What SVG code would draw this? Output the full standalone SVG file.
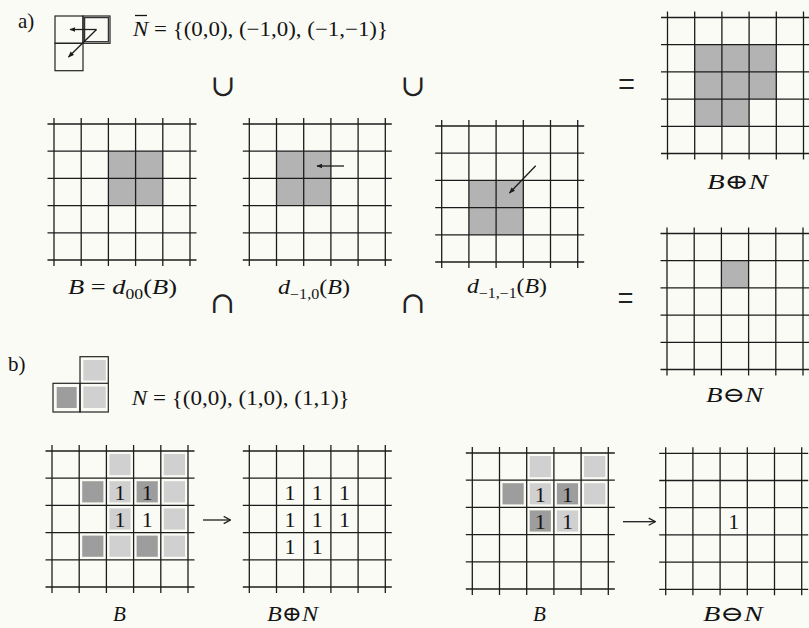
<svg xmlns="http://www.w3.org/2000/svg" xmlns:xlink="http://www.w3.org/1999/xlink" width="809" height="628" viewBox="0 0 809 628">
<style>
.gl line{stroke:#1c1c1c;stroke-width:1.3}
.t{font-family:"Liberation Serif","DejaVu Serif",serif;fill:#141414;font-size:21px}
.i{font-style:italic}
.sub{font-size:14px}
.sym{font-family:"DejaVu Serif","Liberation Serif",serif;fill:#222;font-size:30px}
.eq{font-family:"Liberation Serif","DejaVu Serif",serif;fill:#222;font-size:40px}
.sa{fill:#b3b3b3}
.dk{fill:#9d9d9d}
.lt{fill:#d0d0d0}
.dg{font-family:"Liberation Serif","DejaVu Serif",serif;fill:#141414;font-size:22px;text-anchor:middle}
.ar{stroke:#1c1c1c;stroke-width:1.3;fill:none}
.box{fill:none;stroke:#222;stroke-width:1.2}
</style>
<defs>
<g id="grid" class="gl">
<line x1="-6.5" y1="0" x2="142.5" y2="0"/>
<line x1="-6.5" y1="27.2" x2="142.5" y2="27.2"/>
<line x1="-6.5" y1="54.4" x2="142.5" y2="54.4"/>
<line x1="-6.5" y1="81.6" x2="142.5" y2="81.6"/>
<line x1="-6.5" y1="108.8" x2="142.5" y2="108.8"/>
<line x1="-6.5" y1="136" x2="142.5" y2="136"/>
<line x1="0" y1="-6" x2="0" y2="142"/>
<line x1="27.2" y1="-6" x2="27.2" y2="142"/>
<line x1="54.4" y1="-6" x2="54.4" y2="142"/>
<line x1="81.6" y1="-6" x2="81.6" y2="142"/>
<line x1="108.8" y1="-6" x2="108.8" y2="142"/>
<line x1="136" y1="-6" x2="136" y2="142"/>
</g>
<marker id="ah" viewBox="0 0 10 10" refX="9" refY="5" markerWidth="6" markerHeight="6" markerUnits="userSpaceOnUse" orient="auto">
<path d="M0,1 L10,5 L0,9 Z" fill="#1c1c1c"/>
</marker>
<marker id="av" viewBox="0 0 10 10" refX="9" refY="5" markerWidth="9" markerHeight="9" markerUnits="userSpaceOnUse" orient="auto">
<path d="M2,1 L9.5,5 L2,9" fill="none" stroke="#1c1c1c" stroke-width="1.4"/>
</marker>
</defs>
<rect width="809" height="628" fill="#fbfbf6"/>

<g id="label-a"><text class="t" x="18" y="28" font-size="19">a)</text></g>
<g id="label-b"><text class="t" x="8" y="371" font-size="19">b)</text></g>

<g id="icon-a">
<rect class="box" x="55" y="16" width="28" height="27.3"/>
<rect class="box" x="55" y="43.3" width="28" height="27.4"/>
<rect class="box" x="83" y="16" width="27" height="27.3"/>
<rect x="84.6" y="17.6" width="23.8" height="24.1" fill="none" stroke="#333" stroke-width="1.3"/>
</g>
<g id="nbar-text">
<line x1="135" y1="15.5" x2="147" y2="15.5" stroke="#141414" stroke-width="1.3"/>
<text class="t" x="133" y="36" textLength="255" lengthAdjust="spacingAndGlyphs"><tspan class="i">N</tspan> = {(0,0), (−1,0), (−1,−1)}</text>
</g>

<g id="union-1"><text class="sym" x="223" y="96" text-anchor="middle">∪</text></g>
<g id="union-2"><text class="sym" x="413" y="96" text-anchor="middle">∪</text></g>
<g id="eq-1"><text class="eq" x="618" y="98" textLength="17" lengthAdjust="spacingAndGlyphs">=</text></g>
<g id="inter-1"><text class="sym" x="222.5" y="313" text-anchor="middle">∩</text></g>
<g id="inter-2"><text class="sym" x="413" y="313" text-anchor="middle">∩</text></g>
<g id="eq-2"><text class="eq" x="617.5" y="312" textLength="16" lengthAdjust="spacingAndGlyphs">=</text></g>

<g id="grid-B" transform="translate(54,124)">
<rect class="sa" x="54.4" y="27.2" width="54.4" height="54.4"/>
<use xlink:href="#grid" href="#grid"/>
</g>
<g id="label-B-d00"><text class="t" x="68" y="294" textLength="109" lengthAdjust="spacingAndGlyphs"><tspan class="i">B</tspan> = <tspan class="i">d</tspan><tspan class="sub" dy="5">00</tspan><tspan dy="-5">(</tspan><tspan class="i">B</tspan>)</text></g>

<g id="grid-d-10" transform="translate(249.3,124)">
<rect class="sa" x="27.2" y="27.2" width="54.4" height="54.4"/>
<use xlink:href="#grid" href="#grid"/>
</g>
<g id="label-d-10"><text class="t" x="278" y="294" textLength="72" lengthAdjust="spacingAndGlyphs"><tspan class="i">d</tspan><tspan class="sub" dy="5">−1,0</tspan><tspan dy="-5">(</tspan><tspan class="i">B</tspan>)</text></g>

<g id="grid-d-11" transform="translate(441.7,126)">
<rect class="sa" x="27.2" y="54.4" width="54.4" height="54.4"/>
<use xlink:href="#grid" href="#grid"/>
</g>
<g id="label-d-11"><text class="t" x="467" y="293" textLength="80" lengthAdjust="spacingAndGlyphs"><tspan class="i">d</tspan><tspan class="sub" dy="5">−1,−1</tspan><tspan dy="-5">(</tspan><tspan class="i">B</tspan>)</text></g>

<g id="grid-dil-a" transform="translate(667.5,17.5)">
<rect class="sa" x="27.2" y="27.2" width="81.6" height="54.4"/>
<rect class="sa" x="27.2" y="81.6" width="54.4" height="27.2"/>
<use xlink:href="#grid" href="#grid"/>
</g>
<g id="label-dil-a"><text class="t" x="707" y="188.5" textLength="61" lengthAdjust="spacingAndGlyphs"><tspan class="i">B</tspan>⊕<tspan class="i">N</tspan></text></g>

<g id="grid-ero-a" transform="translate(667,233.5)">
<rect class="sa" x="54.4" y="27.2" width="27.2" height="27.2"/>
<use xlink:href="#grid" href="#grid"/>
</g>
<g id="label-ero-a"><text class="t" x="706" y="402" textLength="57" lengthAdjust="spacingAndGlyphs"><tspan class="i">B</tspan>⊖<tspan class="i">N</tspan></text></g>

<g id="icon-b">
<rect class="dk" x="56.7" y="387" width="20" height="21"/>
<rect class="lt" x="83.3" y="360" width="22.5" height="20.5"/>
<rect class="lt" x="83.3" y="386.5" width="22.5" height="21.5"/>
<rect class="box" x="53" y="383.3" width="27" height="28.7"/>
<rect class="box" x="80" y="356.7" width="28.3" height="55.3"/>
<line x1="80" y1="383.3" x2="108.3" y2="383.3" stroke="#222" stroke-width="1.2"/>
</g>
<g id="n-text"><text class="t" x="131.7" y="405" textLength="218" lengthAdjust="spacingAndGlyphs"><tspan class="i">N</tspan> = {(0,0), (1,0), (1,1)}</text></g>

<g id="grid-B-dil" transform="translate(52,451)">
<rect class="lt" x="57.4" y="3" width="21.2" height="21.2"/>
<rect class="lt" x="111.8" y="3" width="21.2" height="21.2"/>
<rect class="dk" x="30.2" y="30.2" width="21.2" height="21.2"/>
<rect class="lt" x="57.4" y="30.2" width="21.2" height="21.2"/>
<rect class="dk" x="84.6" y="30.2" width="21.2" height="21.2"/>
<rect class="lt" x="111.8" y="30.2" width="21.2" height="21.2"/>
<rect class="lt" x="57.4" y="57.4" width="21.2" height="21.2"/>
<rect class="lt" x="111.8" y="57.4" width="21.2" height="21.2"/>
<rect class="dk" x="30.2" y="84.6" width="21.2" height="21.2"/>
<rect class="lt" x="57.4" y="84.6" width="21.2" height="21.2"/>
<rect class="dk" x="84.6" y="84.6" width="21.2" height="21.2"/>
<rect class="lt" x="111.8" y="84.6" width="21.2" height="21.2"/>
<use xlink:href="#grid" href="#grid"/>
<text class="dg" x="68" y="49">1</text>
<text class="dg" x="95.2" y="49">1</text>
<text class="dg" x="68" y="76.2">1</text>
<text class="dg" x="95.2" y="76.2">1</text>
</g>
<g id="label-B-1"><text class="t i" x="113" y="621">B</text></g>

<g id="grid-dil-b" transform="translate(249.3,451)">
<use xlink:href="#grid" href="#grid"/>
<text class="dg" x="40.8" y="49">1</text>
<text class="dg" x="68" y="49">1</text>
<text class="dg" x="95.2" y="49">1</text>
<text class="dg" x="40.8" y="76.2">1</text>
<text class="dg" x="68" y="76.2">1</text>
<text class="dg" x="95.2" y="76.2">1</text>
<text class="dg" x="40.8" y="103.4">1</text>
<text class="dg" x="68" y="103.4">1</text>
</g>
<g id="label-dil-b"><text class="t" x="267" y="621" textLength="51" lengthAdjust="spacingAndGlyphs"><tspan class="i">B</tspan>⊕<tspan class="i">N</tspan></text></g>

<g id="grid-B-ero" transform="translate(472.3,453)">
<rect class="lt" x="57.4" y="3" width="21.2" height="21.2"/>
<rect class="lt" x="111.8" y="3" width="21.2" height="21.2"/>
<rect class="dk" x="30.2" y="30.2" width="21.2" height="21.2"/>
<rect class="lt" x="57.4" y="30.2" width="21.2" height="21.2"/>
<rect class="dk" x="84.6" y="30.2" width="21.2" height="21.2"/>
<rect class="lt" x="111.8" y="30.2" width="21.2" height="21.2"/>
<rect class="dk" x="57.4" y="57.4" width="21.2" height="21.2"/>
<rect class="lt" x="84.6" y="57.4" width="21.2" height="21.2"/>
<use xlink:href="#grid" href="#grid"/>
<text class="dg" x="68" y="49">1</text>
<text class="dg" x="95.2" y="49">1</text>
<text class="dg" x="68" y="76.2">1</text>
<text class="dg" x="95.2" y="76.2">1</text>
</g>
<g id="label-B-2"><text class="t i" x="533" y="621">B</text></g>

<g id="grid-ero-b" transform="translate(665.7,453.3)">
<use xlink:href="#grid" href="#grid"/>
<text class="dg" x="68" y="76.2">1</text>
</g>
<g id="label-ero-b"><text class="t" x="703" y="621" textLength="60" lengthAdjust="spacingAndGlyphs"><tspan class="i">B</tspan>⊖<tspan class="i">N</tspan></text></g>

<g id="connectors">
<line class="ar" x1="96.5" y1="29.5" x2="70" y2="29.5" marker-end="url(#ah)"/>
<line class="ar" x1="96.5" y1="29.5" x2="68.5" y2="57" marker-end="url(#ah)"/>
<line class="ar" x1="344" y1="166" x2="317" y2="166" marker-end="url(#ah)"/>
<line class="ar" x1="535.7" y1="165.7" x2="509.5" y2="193" marker-end="url(#ah)"/>
<line class="ar" x1="203" y1="520" x2="230" y2="520" marker-end="url(#av)"/>
<line class="ar" x1="623" y1="521.7" x2="655" y2="521.7" marker-end="url(#av)"/>
</g>
</svg>
